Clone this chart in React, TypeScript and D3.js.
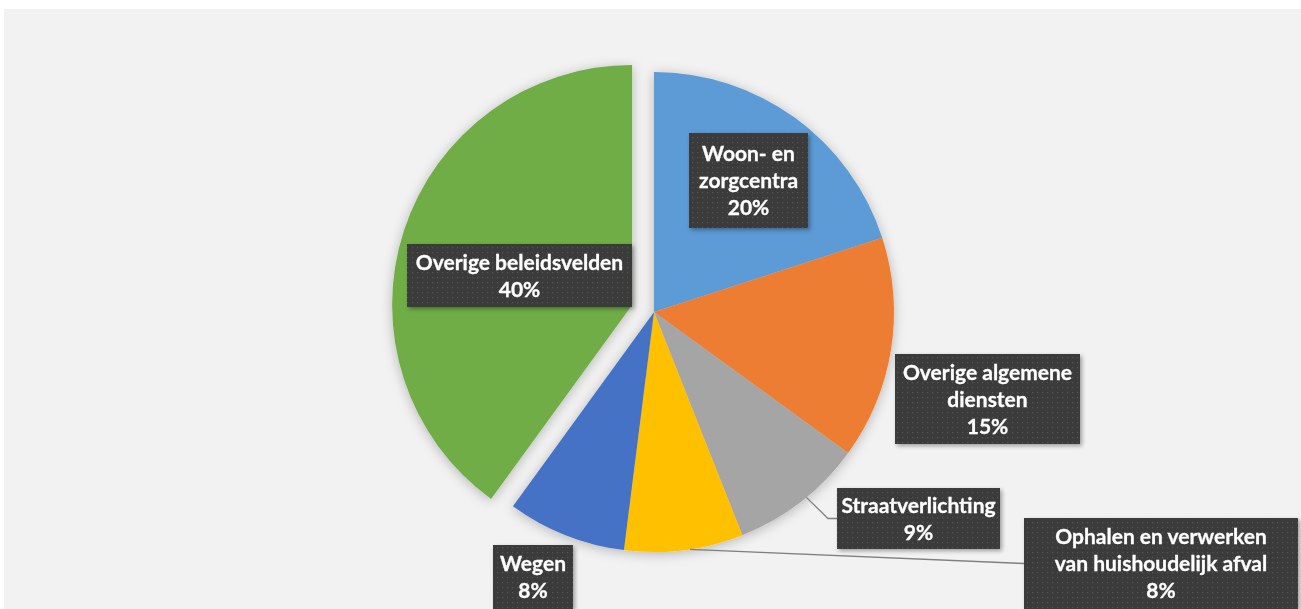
import React from "react";
import * as d3 from "d3";

const categories = [
  "Woon- en zorgcentra",
  "Overige algemene diensten",
  "Straatverlichting",
  "Ophalen en verwerken van huishoudelijk afval",
  "Wegen",
  "Overige beleidsvelden",
];
const values = [20, 15, 9, 8, 8, 40];
const colors = ["#5B9BD5", "#ED7D31", "#A5A5A5", "#FFC000", "#4472C4", "#70AD47"];
const labelLines = [
  ["Woon- en", "zorgcentra", "20%"],
  ["Overige algemene", "diensten", "15%"],
  ["Straatverlichting", "9%"],
  ["Ophalen en verwerken", "van huishoudelijk afval", "8%"],
  ["Wegen", "8%"],
  ["Overige beleidsvelden", "40%"],
];
const explode = [0, 0, 0, 0, 0, 23];

// label box layout: x, y, w, h
const boxes = [
  [689, 133, 119, 95],
  [895, 354, 185, 90],
  [837, 488, 163, 61],
  [1024, 518, 274, 91],
  [493, 545, 80, 64],
  [407, 244, 225, 63],
];

const W = 1301;
const H = 609;
const cx = 654;
const cy = 312;
const R = 240;

export default function App() {
  const pie = d3.pie<number>().sort(null).value((d) => d)(values);
  const arc = d3.arc<d3.PieArcDatum<number>>().innerRadius(0).outerRadius(R);
  const lineH = 27;

  const leader = (i: number) => {
    const p = pie[i];
    const b = boxes[i];
    const my = b[1] + b[3] / 2;
    if (i === 2) {
      const a = p.startAngle + (p.endAngle - p.startAngle) * 0.45;
      const sx = cx + Math.sin(a) * R;
      const sy = cy - Math.cos(a) * R;
      return `M${sx},${sy}L${b[0] - 9},${my}L${b[0]},${my}`;
    }
    if (i === 3) {
      const a = p.startAngle + (p.endAngle - p.startAngle) * 0.45;
      const sx = cx + Math.sin(a) * R;
      const sy = cy - Math.cos(a) * R;
      return `M${sx},${sy}L${b[0]},${my}`;
    }
    return null;
  };

  return (
    <svg
      width={W}
      height={H}
      style={{ position: "absolute", left: 0, top: 0, background: "#ffffff" }}
      fontFamily="Lato, 'Open Sans', sans-serif"
    >
      <defs>
        <filter id="sh" x="-20%" y="-20%" width="140%" height="140%">
          <feDropShadow dx="0" dy="2" stdDeviation="6" floodColor="#000" floodOpacity="0.25" />
        </filter>
        <filter id="bsh" x="-20%" y="-20%" width="140%" height="150%">
          <feDropShadow dx="2" dy="2" stdDeviation="2" floodColor="#000" floodOpacity="0.35" />
        </filter>
        <pattern id="dots" width="5" height="5" patternUnits="userSpaceOnUse">
          <rect width="5" height="5" fill="#3b3b3b" />
          <rect x="2" y="2" width="1.2" height="1.2" fill="#555555" />
        </pattern>
      </defs>
      <rect x={4} y={9} width={W - 4} height={H - 9} fill="#f2f2f2" />
      <g filter="url(#sh)">
        {pie.map((p, i) => {
          const a = (p.startAngle + p.endAngle) / 2;
          const dx = Math.sin(a) * explode[i];
          const dy = -Math.cos(a) * explode[i];
          return (
            <path
              key={categories[i]}
              d={arc(p) || ""}
              transform={`translate(${cx + dx},${cy + dy})`}
              fill={colors[i]}
            />
          );
        })}
      </g>
      {pie.map((p, i) => {
        const d = leader(i);
        return d ? <path key={"l" + i} d={d} fill="none" stroke="#7f7f7f" strokeWidth={1.3} /> : null;
      })}
      {boxes.map((b, i) => {
        const lines = labelLines[i];
        const midY = b[1] + b[3] / 2;
        const y0 = midY - ((lines.length - 1) * lineH) / 2;
        return (
          <g key={"b" + i}>
            <rect x={b[0]} y={b[1]} width={b[2]} height={b[3]} fill="url(#dots)" filter="url(#bsh)" />
            {lines.map((t, j) => (
              <text
                key={j}
                x={b[0] + b[2] / 2}
                y={y0 + j * lineH}
                dy="0.36em"
                textAnchor="middle"
                fill="#ffffff"
                fontWeight="bold"
                fontSize={21}
                stroke="#ffffff"
                strokeWidth={0.3}
              >
                {t}
              </text>
            ))}
          </g>
        );
      })}
    </svg>
  );
}
